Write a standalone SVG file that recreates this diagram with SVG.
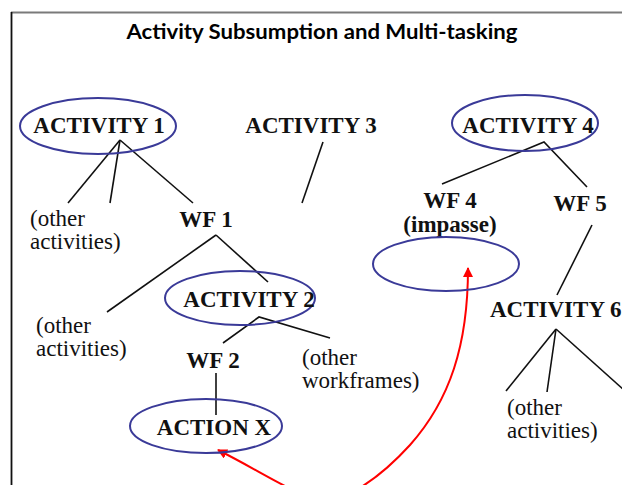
<svg xmlns="http://www.w3.org/2000/svg" width="622" height="485" viewBox="0 0 622 485">
<style>
.b{font-family:"Liberation Serif","Times New Roman",serif;font-weight:bold;font-size:23px;fill:#111}
.r{font-family:"Liberation Serif","Times New Roman",serif;font-size:23px;fill:#111}
.e{fill:none;stroke:#3a3a98;stroke-width:2}
.c line,.c polyline{stroke:#111;stroke-width:1.6;fill:none}
</style>
<defs>
<marker id="ah" viewBox="0 0 10 10" refX="9" refY="5" markerWidth="5" markerHeight="5" orient="auto-start-reverse" markerUnits="strokeWidth">
<path d="M0,0 L10,5 L0,10 z" fill="#ff0000"/>
</marker>
</defs>
<rect width="622" height="485" fill="#fff"/>
<line x1="11" y1="12.5" x2="622" y2="12.5" stroke="#7a7a7a" stroke-width="1.8"/>
<line x1="11.5" y1="12" x2="11.5" y2="485" stroke="#111" stroke-width="1.8"/>
<text x="322" y="39" text-anchor="middle" font-family="Lato,'Liberation Sans',sans-serif" font-weight="bold" font-size="21" textLength="391" lengthAdjust="spacingAndGlyphs" fill="#000">Activity Subsumption and Multi-tasking</text>

<g id="connectors" class="c">
<line x1="120" y1="140" x2="68" y2="203"/>
<line x1="120" y1="140" x2="110" y2="203"/>
<line x1="120" y1="140" x2="193" y2="203"/>
<line x1="323" y1="142" x2="302" y2="203"/>
<line x1="216" y1="235" x2="107" y2="312"/>
<line x1="216" y1="235" x2="268" y2="282"/>
<polyline points="223,343 259,317 330,338"/>
<line x1="216" y1="373" x2="216" y2="415"/>
<polyline points="442,184 544,142 587,187"/>
<line x1="592" y1="225" x2="557" y2="295"/>
<line x1="556" y1="329" x2="506" y2="391"/>
<line x1="556" y1="329" x2="547" y2="392"/>
<line x1="556" y1="329" x2="624" y2="390"/>
<path d="M218,450 C262,472 300,498 322,500 C345,502 380,478 410,445 C450,400 468,345 468,268" fill="none" stroke="#ff0000" stroke-width="2" marker-start="url(#ah)" marker-end="url(#ah)"/>
</g>

<g id="activity1">
<ellipse class="e" cx="98" cy="126" rx="78" ry="28"/>
<text class="b" x="99" y="133" text-anchor="middle">ACTIVITY 1</text>
</g>
<g id="activity3">
<text class="b" x="311" y="133" text-anchor="middle">ACTIVITY 3</text>
</g>
<g id="activity4">
<ellipse class="e" cx="525" cy="123" rx="73" ry="28"/>
<text class="b" x="528" y="133" text-anchor="middle">ACTIVITY 4</text>
</g>
<g id="other-activities-1">
<text class="r" x="30" y="226">(other</text>
<text class="r" x="30" y="249">activities)</text>
</g>
<g id="wf1">
<text class="b" x="206" y="227" text-anchor="middle">WF 1</text>
</g>
<g id="activity2">
<ellipse class="e" cx="240" cy="298" rx="75" ry="27"/>
<text class="b" x="249" y="307" text-anchor="middle">ACTIVITY 2</text>
</g>
<g id="other-activities-2">
<text class="r" x="36" y="333">(other</text>
<text class="r" x="36" y="356">activities)</text>
</g>
<g id="wf2">
<text class="b" x="213" y="368" text-anchor="middle">WF 2</text>
</g>
<g id="other-workframes">
<text class="r" x="302" y="365">(other</text>
<text class="r" x="302" y="388">workframes)</text>
</g>
<g id="actionx">
<ellipse class="e" cx="206" cy="426" rx="76" ry="27"/>
<text class="b" x="214" y="435" text-anchor="middle">ACTION X</text>
</g>
<g id="wf4">
<text class="b" x="450" y="208" text-anchor="middle">WF 4</text>
<text class="b" x="450" y="232" text-anchor="middle">(impasse)</text>
</g>
<g id="impasse-ellipse">
<ellipse class="e" cx="446" cy="264" rx="73" ry="27"/>
</g>
<g id="wf5">
<text class="b" x="580" y="211" text-anchor="middle">WF 5</text>
</g>
<g id="activity6">
<text class="b" x="490" y="317">ACTIVITY 6</text>
</g>
<g id="other-activities-3">
<text class="r" x="507" y="415">(other</text>
<text class="r" x="507" y="438">activities)</text>
</g>
</svg>
